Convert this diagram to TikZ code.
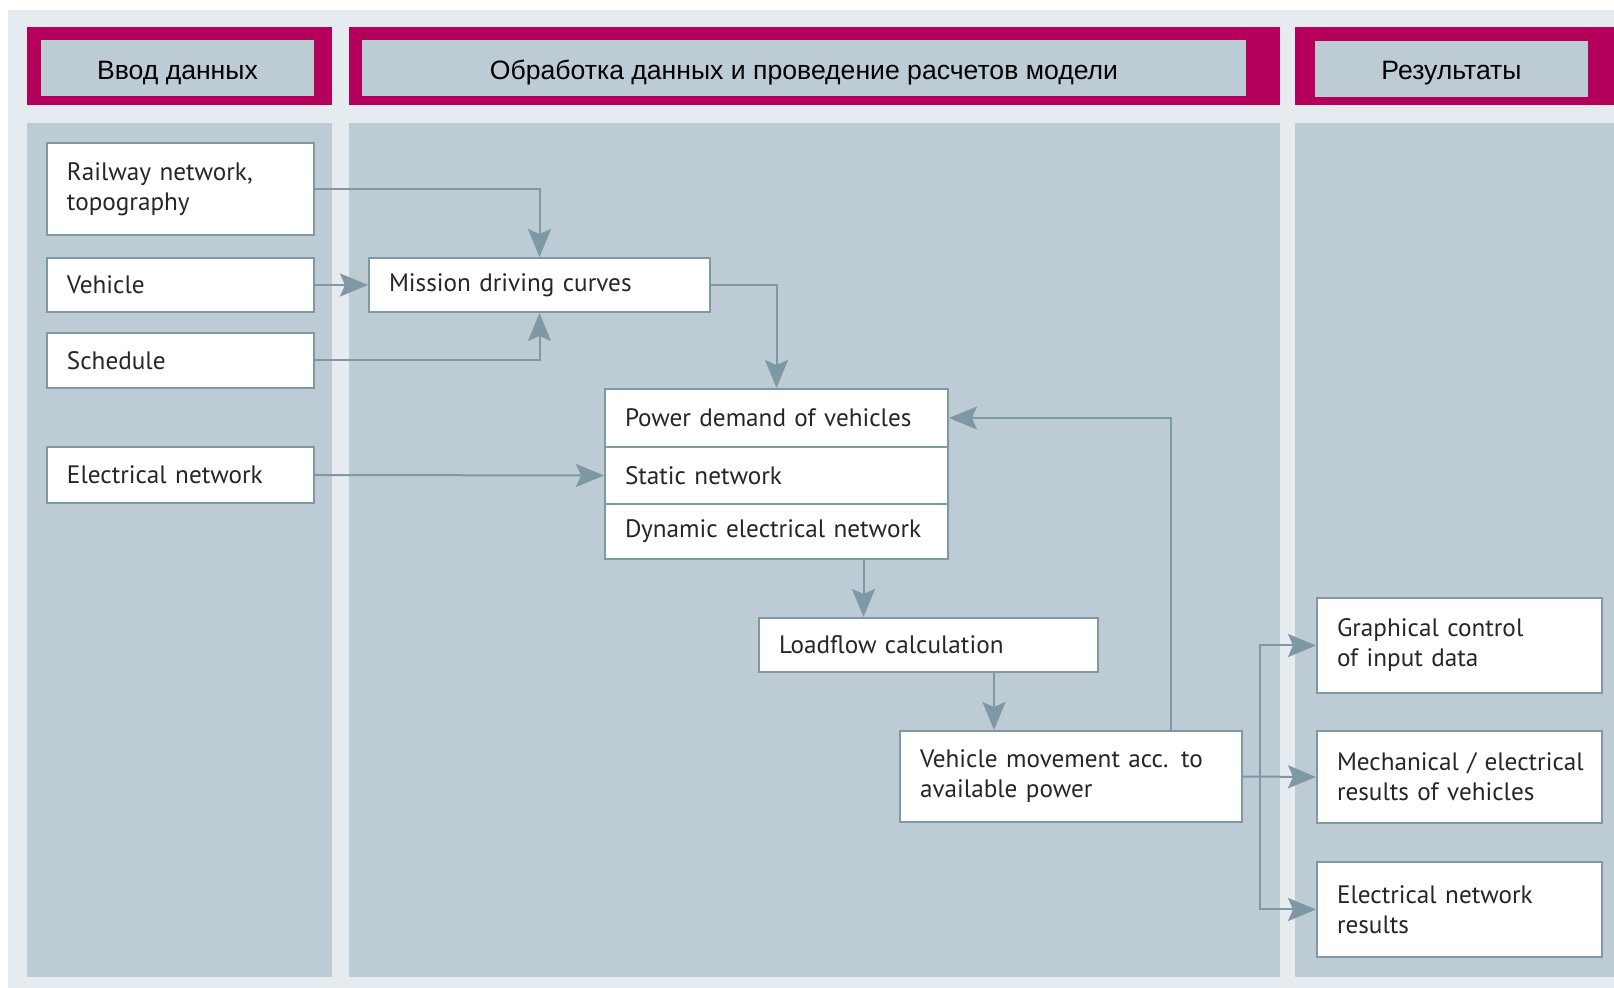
\documentclass[tikz,border=0pt]{standalone}
\usepackage{fontspec}
\setmainfont{PT Sans}
\newfontfamily\hdrfont{Liberation Sans}
\usetikzlibrary{arrows.meta}
\definecolor{sbmag}{HTML}{B4005A}
\definecolor{sbpanel}{HTML}{BDCCD4}
\definecolor{sbback}{HTML}{E6EBEF}
\definecolor{sbline}{HTML}{7F98A6}

\begin{document}
\begin{tikzpicture}[x=0.5pt,y=-0.5pt]
 \tikzstyle{inbox}=[rectangle,draw=sbline,line width=1pt,fill=white,
   anchor=north west,align=left,inner xsep=10pt,inner ysep=0pt,
   text=black!85,font=\fontsize{12.6}{15}\selectfont]
 \tikzstyle{hdr}=[font=\hdrfont\fontsize{13.3}{16}\selectfont,text=black,
   text height=10pt,text depth=0pt]
 \tikzstyle{flow}=[-{Stealth[length=14pt,width=11.5pt,inset=2.5pt]},
   line width=1pt,draw=sbline]
 \useasboundingbox (0,0) rectangle (1614,988);
 % background, columns and headers
 \fill[sbback] (8,10) rectangle (1614,988);
 \fill[sbpanel] (27,123) rectangle (332,977);
 \fill[sbpanel] (349,123) rectangle (1280,977);
 \fill[sbpanel] (1295,123) rectangle (1614,977);
 \fill[sbmag] (27,27) rectangle (332,105);
 \fill[sbmag] (349,27) rectangle (1280,105);
 \fill[sbmag] (1295,27) rectangle (1614,105);
 \fill[sbpanel] (41,40) rectangle (314,96);
 \fill[sbpanel] (362,40) rectangle (1246,96);
 \fill[sbpanel] (1315,41) rectangle (1588,97);
 \node (hin) [hdr] at (177.5,70) {Ввод данных};
 \node (hproc) [hdr] at (804,70) {Обработка данных и проведение расчетов модели};
 \node (hres) [hdr] at (1451.5,70) {Результаты};
 % input data
 \node (rail) [inbox,text width=113.5pt,minimum height=46pt] at (46,142)
   {Railway network,\\topography};
 \node (veh) [inbox,text width=113.5pt,minimum height=27pt] at (46,257) {Vehicle};
 \node (sched) [inbox,text width=113.5pt,minimum height=27.5pt] at (46,332) {Schedule};
 \node (elnet) [inbox,text width=113.5pt,minimum height=28pt] at (46,446)
   {Electrical network};
 % processing
 \node (mission) [inbox,text width=150.5pt,minimum height=27pt] at (368,257)
   {Mission driving curves};
 \node (power) [inbox,text width=151.5pt,minimum height=29pt] at (604,388)
   {Power demand of vehicles};
 \node (static) [inbox,text width=151.5pt,minimum height=28.5pt] at (604,446)
   {Static network};
 \node (dyn) [inbox,text width=151.5pt,minimum height=27.5pt] at (604,503)
   {Dynamic electrical network};
 \node (load) [inbox,text width=149.5pt,minimum height=27pt] at (758,617)
   {Loadflow calculation};
 \node (move) [inbox,text width=151pt,minimum height=45.5pt] at (899,730)
   {Vehicle movement acc. to\\available power};
 % results
 \node (graph) [inbox,text width=122.5pt,minimum height=47.5pt] at (1316,597)
   {Graphical control\\of input data};
 \node (mech) [inbox,text width=122.5pt,minimum height=46pt] at (1316,730)
   {\mbox{Mechanical / electrical}\\results of vehicles};
 \node (elres) [inbox,text width=122.5pt,minimum height=47.5pt] at (1316,861)
   {Electrical network\\results};
 % connectors
 \draw[flow] (rail.east) -| (mission.north);
 \draw[flow] (veh.east) -- (mission.west);
 \draw[flow] (sched.east) -| (mission.south);
 \draw[flow] (mission.east) -| (power.north);
 \draw[flow] (elnet.east) -- (static.west);
 \draw[flow] ([xshift=43.5pt]dyn.south) -- ([xshift=43.5pt]dyn.south |- load.north);
 \draw[flow] ([xshift=32.75pt]load.south) -- ([xshift=32.75pt]load.south |- move.north);
 \draw[flow] ([xshift=50pt]move.north) |- (power.east);
 \coordinate (split) at ([xshift=8.5pt]move.east);
 \draw[flow] (move.east) -- (mech.west);
 \draw[flow] (split) |- (graph.west);
 \draw[flow] (split) |- (elres.west);
\end{tikzpicture}
\end{document}
